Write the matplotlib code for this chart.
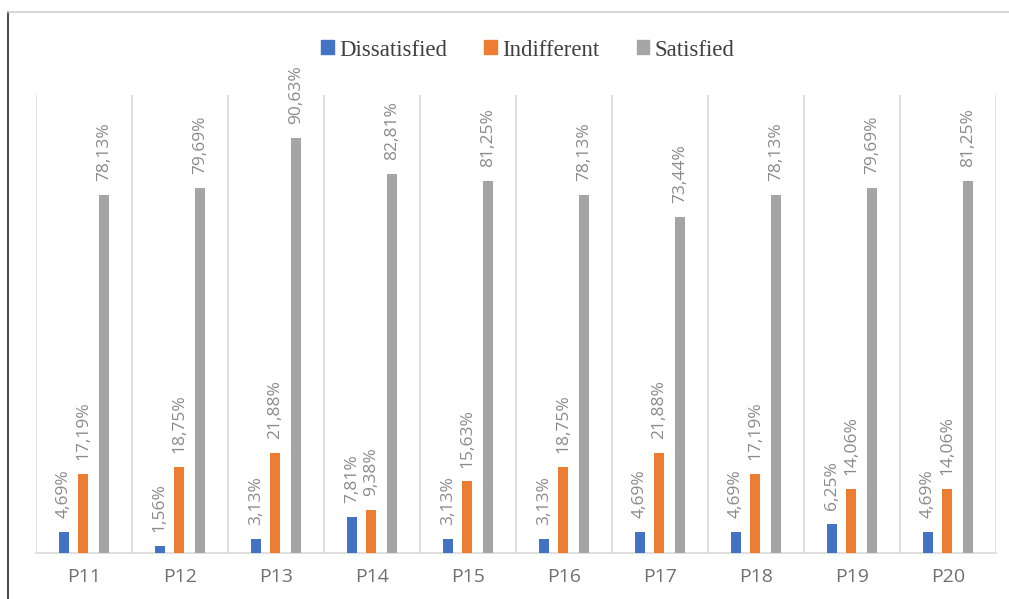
import matplotlib.pyplot as plt
from matplotlib.lines import Line2D
import numpy as np

categories = ["P11", "P12", "P13", "P14", "P15", "P16", "P17", "P18", "P19", "P20"]
dissatisfied = [4.69, 1.56, 3.13, 7.81, 3.13, 3.13, 4.69, 4.69, 6.25, 4.69]
indifferent = [17.19, 18.75, 21.88, 9.38, 15.63, 18.75, 21.88, 17.19, 14.06, 14.06]
satisfied = [78.13, 79.69, 90.63, 82.81, 81.25, 78.13, 73.44, 78.13, 79.69, 81.25]

series_names = ["Dissatisfied", "Indifferent", "Satisfied"]
series_values = [dissatisfied, indifferent, satisfied]
colors = ["#4472C4", "#ED7D31", "#A5A5A5"]

W, H = 1009, 599
fig = plt.figure(figsize=(W / 100, H / 100), dpi=100)
ax = fig.add_axes([36 / W, (H - 553) / H, (996 - 36) / W, (553 - 95) / H])

x = np.arange(len(categories))
offsets = [-0.21, -0.01, 0.21]
bar_w = 0.105
label_color = "#8A8A8A"

for vals, off, col in zip(series_values, offsets, colors):
    bars = ax.bar(x + off, vals, width=bar_w, color=col, zorder=3)
    for b, v in zip(bars, vals):
        ax.annotate(f"{v:.2f}%".replace(".", ","),
                    xy=(b.get_x() + b.get_width() / 2, v),
                    xytext=(0, 10), textcoords="offset points",
                    rotation=90, ha="center", va="bottom",
                    fontsize=12.5, color=label_color, family="Open Sans")

ax.set_xlim(-0.5, len(categories) - 0.5)
ax.set_ylim(0, 100)

# vertical separators between categories
for xv in np.arange(-0.5, len(categories), 1.0):
    ax.axvline(xv, color="#D9D9D9", lw=1.2, zorder=1)

for s in ["top", "right", "left"]:
    ax.spines[s].set_visible(False)
ax.spines["bottom"].set_color("#D9D9D9")
ax.spines["bottom"].set_linewidth(1.2)
ax.set_yticks([])
ax.set_xticks(x)
ax.set_xticklabels(categories, fontsize=14, color="#707070", family="Open Sans")
ax.tick_params(axis="x", length=0, pad=11)

# legend
handles = [plt.Rectangle((0, 0), 1, 1, color=c) for c in colors]
fig.legend(handles, series_names, loc="center", bbox_to_anchor=(528 / W, 1 - 50 / H),
           ncol=3, frameon=False, prop={"family": "Liberation Serif", "size": 16.5},
           handlelength=0.55, handleheight=0.55, handletextpad=0.25, columnspacing=1.6,
           labelcolor="#404040")

# frame lines around the figure
fig.add_artist(Line2D([8 / W, 8 / W], [0, 1 - 12 / H], transform=fig.transFigure,
                      color="#505050", lw=1.5))
fig.add_artist(Line2D([8 / W, 1], [1 - 12 / H, 1 - 12 / H], transform=fig.transFigure,
                      color="#D0D0D0", lw=1.2))

fig.savefig("out.png", dpi=100)
